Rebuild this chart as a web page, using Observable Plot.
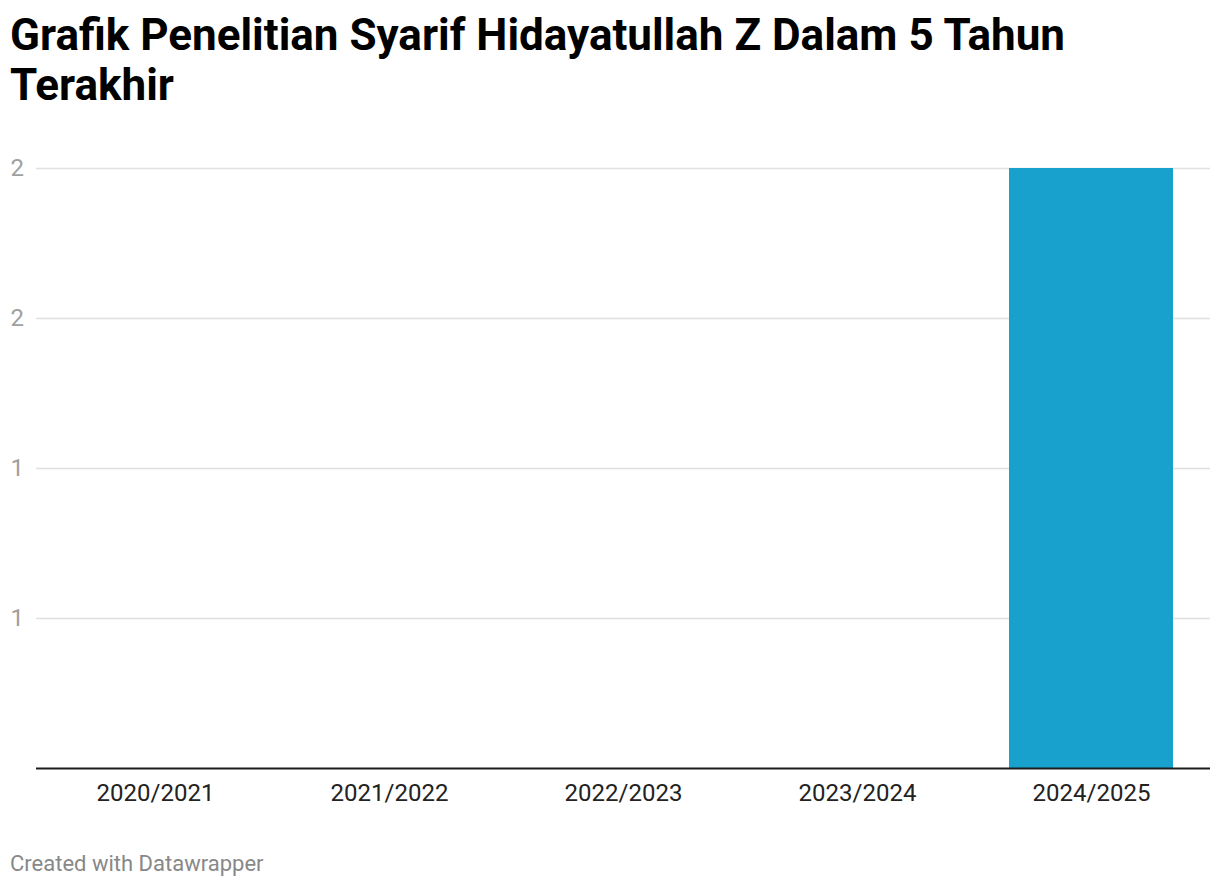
<!DOCTYPE html>
<html>
<head>
<meta charset="utf-8">
<script src="https://cdn.jsdelivr.net/npm/d3@7"></script>
<script src="https://cdn.jsdelivr.net/npm/@observablehq/plot@0.6"></script>
<style>
  html, body { margin: 0; padding: 0; background: #fff; }
  body { width: 1220px; height: 888px; position: relative; font-family: Roboto, sans-serif; overflow: hidden; }
  #title { position: absolute; left: 10px; top: 10px; width: 1120px; font-weight: 700; font-size: 44px; line-height: 50px; color: #000; letter-spacing: 0px; }
  #chart { position: absolute; left: 0; top: 140px; }
  #footer { position: absolute; left: 10px; top: 851px; font-size: 22px; color: #888; }
</style>
</head>
<body>
<div id="title">Grafik Penelitian Syarif Hidayatullah Z Dalam 5 Tahun Terakhir</div>
<div id="chart"></div>
<div id="footer">Created with Datawrapper</div>
<script>
const categories = ["2020/2021", "2021/2022", "2022/2023", "2023/2024", "2024/2025"];
const values = [0, 0, 0, 0, 2];
const yTicks = [0.5, 1, 1.5, 2];
const yTickLabels = ["1", "1", "2", "2"];

const data = categories.map((c, i) => ({category: c, value: values[i]}));

const chart = Plot.plot({
  width: 1220,
  height: 690,
  marginTop: 28,
  marginBottom: 62,
  marginLeft: 36,
  marginRight: 10,
  style: {fontFamily: "Roboto, sans-serif", fontSize: "24px", background: "transparent"},
  x: {domain: categories, paddingInner: 0.3, paddingOuter: 0.15, label: null},
  y: {domain: [0, 2], label: null},
  marks: [
    Plot.gridY(yTicks, {stroke: "#e0e0e0", strokeOpacity: 1, strokeWidth: 1.5}),
    Plot.axisY({ticks: yTicks, tickFormat: (d, i) => yTickLabels[yTicks.indexOf(d)], tickSize: 0, tickPadding: 26, textAnchor: "start", fill: "#a0a0a0", label: null}),
    Plot.barY(data.filter(d => d.value > 0), {x: "category", y: "value", fill: "#18a1cd"}),
    Plot.ruleY([0], {stroke: "#1d1d1d", strokeWidth: 2}),
    Plot.axisX({tickSize: 0, tickPadding: 15, fill: "#222", label: null})
  ]
});
document.getElementById("chart").appendChild(chart);
</script>
</body>
</html>
